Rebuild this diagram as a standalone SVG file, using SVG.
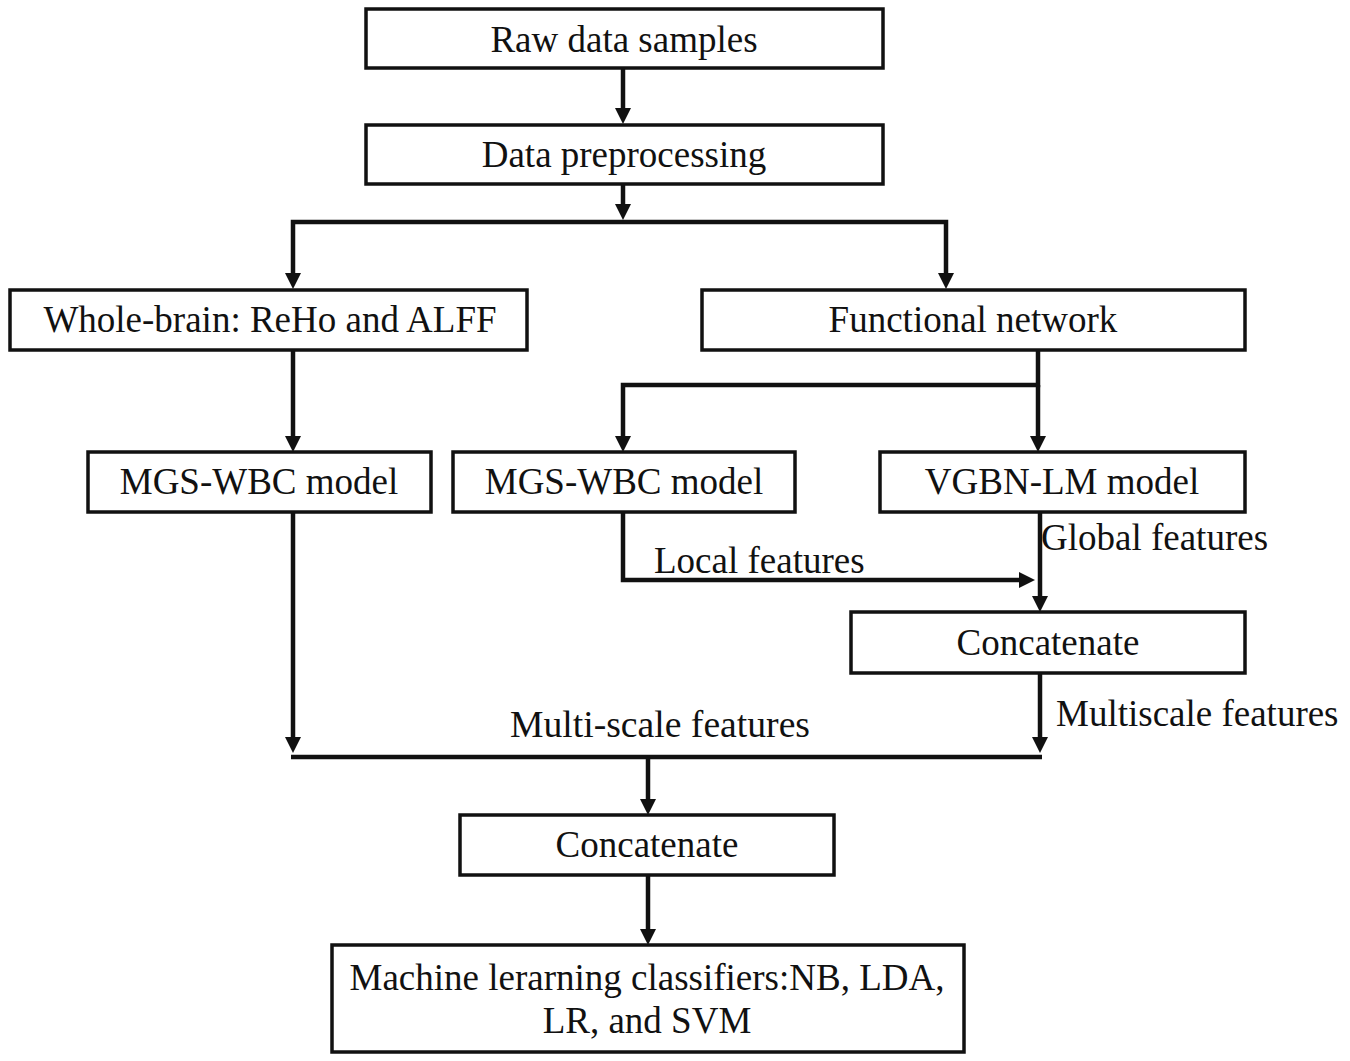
<svg xmlns="http://www.w3.org/2000/svg" width="1350" height="1061" viewBox="0 0 1350 1061">
<style>
.box{fill:#fff;stroke:#111;stroke-width:3.5}
.t{font-family:"Liberation Serif","Times New Roman",serif;font-size:37px;fill:#111;text-anchor:middle}
.l{font-family:"Liberation Serif","Times New Roman",serif;font-size:37px;fill:#111}
.c{fill:none;stroke:#111;stroke-width:4.5}
</style>
<defs>
<marker id="ah" viewBox="0 0 16 16" refX="2" refY="8" markerWidth="16" markerHeight="16" markerUnits="userSpaceOnUse" orient="auto">
<path d="M0,0 L16,8 L0,16 z" fill="#111"/>
</marker>
</defs>
<rect width="1350" height="1061" fill="#fff"/>
<g id="connectors">
<path class="c" d="M623,68 V110" marker-end="url(#ah)"/>
<path class="c" d="M623,184 V206" marker-end="url(#ah)"/>
<path class="c" d="M623,222 H293 V275" marker-end="url(#ah)"/>
<path class="c" d="M623,222 H946 V275" marker-end="url(#ah)"/>
<path class="c" d="M293,350 V438" marker-end="url(#ah)"/>
<path class="c" d="M1038,350 V385 H623 V438" marker-end="url(#ah)"/>
<path class="c" d="M1038,385 V438" marker-end="url(#ah)"/>
<path class="c" d="M623,512 V580 H1021" marker-end="url(#ah)"/>
<path class="c" d="M1040,512 V598" marker-end="url(#ah)"/>
<path class="c" d="M1040,673 V739" marker-end="url(#ah)"/>
<path class="c" d="M293,512 V739" marker-end="url(#ah)"/>
<path class="c" d="M291,757 H1042"/>
<path class="c" d="M648,757 V801" marker-end="url(#ah)"/>
<path class="c" d="M648,875 V931" marker-end="url(#ah)"/>
</g>
<g id="labels">
<text class="l" x="654" y="573">Local features</text>
<text class="l" x="1041" y="550">Global features</text>
<text class="l" x="1056" y="726">Multiscale features</text>
<text class="t" x="660" y="737" font-size="39" textLength="300" lengthAdjust="spacingAndGlyphs">Multi-scale features</text>
</g>
<g id="raw">
<rect class="box" x="366" y="9" width="517" height="59"/>
<text class="t" x="624" y="52">Raw data samples</text>
</g>
<g id="preproc">
<rect class="box" x="366" y="125" width="517" height="59"/>
<text class="t" x="624" y="167">Data preprocessing</text>
</g>
<g id="wholebrain">
<rect class="box" x="10" y="290" width="517" height="60"/>
<text class="t" x="270" y="332">Whole-brain: ReHo and ALFF</text>
</g>
<g id="functional">
<rect class="box" x="702" y="290" width="543" height="60"/>
<text class="t" x="973" y="332">Functional network</text>
</g>
<g id="mgs1">
<rect class="box" x="88" y="452" width="343" height="60"/>
<text class="t" x="259" y="494">MGS-WBC model</text>
</g>
<g id="mgs2">
<rect class="box" x="453" y="452" width="342" height="60"/>
<text class="t" x="624" y="494">MGS-WBC model</text>
</g>
<g id="vgbn">
<rect class="box" x="880" y="452" width="365" height="60"/>
<text class="t" x="1062" y="494">VGBN-LM model</text>
</g>
<g id="concat1">
<rect class="box" x="851" y="612" width="394" height="61"/>
<text class="t" x="1048" y="655">Concatenate</text>
</g>
<g id="concat2">
<rect class="box" x="460" y="815" width="374" height="60"/>
<text class="t" x="647" y="857">Concatenate</text>
</g>
<g id="classifiers">
<rect class="box" x="332" y="945" width="632" height="107"/>
<text class="t" x="647" y="990">Machine lerarning classifiers:NB, LDA,</text>
<text class="t" x="647" y="1033">LR, and SVM</text>
</g>
</svg>
